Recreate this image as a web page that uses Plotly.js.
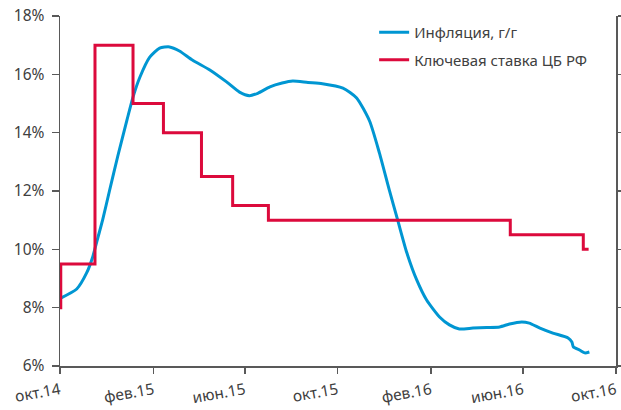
<!DOCTYPE html>
<html>
<head>
<meta charset="utf-8">
<script src="https://cdn.plot.ly/plotly-3.0.1.min.js"></script>
<style>html,body{margin:0;padding:0;background:#fff;}#chart{width:621px;height:410px;}</style>
</head>
<body>
<div id="chart"></div>
<script>
// Inflation, y/y (%)
const inflDates = [
  "2014-10-02","2014-10-23","2014-11-05","2014-11-13","2014-11-20","2014-11-26",
  "2014-12-05","2014-12-16","2014-12-28","2015-01-05","2015-01-14","2015-01-27",
  "2015-02-09","2015-02-22","2015-03-07","2015-03-24","2015-04-16","2015-05-08",
  "2015-05-25","2015-06-07","2015-06-18","2015-07-04","2015-07-20","2015-08-03",
  "2015-08-23","2015-09-11","2015-10-08","2015-10-26","2015-11-12","2015-11-25",
  "2015-12-08","2015-12-19","2015-12-31","2016-01-13","2016-01-26","2016-02-12",
  "2016-02-25","2016-03-09","2016-03-27","2016-04-14","2016-05-01","2016-05-14",
  "2016-05-30","2016-06-09","2016-06-23","2016-07-10","2016-07-30","2016-08-04",
  "2016-08-06","2016-08-14","2016-08-21","2016-08-27"
];
const inflValues = [
  8.33, 8.64, 9.19, 9.74, 10.42, 11.0,
  12.0, 13.2, 14.43, 15.22, 15.9, 16.59,
  16.9, 16.94, 16.8, 16.49, 16.15, 15.74,
  15.39, 15.27, 15.35, 15.57, 15.7, 15.77,
  15.72, 15.68, 15.53, 15.19, 14.4, 13.3,
  12.03, 11.0, 9.88, 8.95, 8.26, 7.68,
  7.41, 7.27, 7.3, 7.32, 7.34, 7.44,
  7.51, 7.47, 7.3, 7.13, 6.96, 6.82,
  6.65, 6.55, 6.45, 6.48
];

// Key rate of the Bank of Russia (%)
const rateDates = [
  "2014-10-01","2014-10-02","2014-11-16","2015-01-05","2015-02-14","2015-04-05",
  "2015-05-16","2015-07-02","2016-05-15","2016-08-19","2016-08-26"
];
const rateValues = [8.0, 9.5, 17.0, 15.0, 14.0, 12.5, 11.5, 11.0, 10.5, 10.0, 10.0];

// Axis ticks
const tickDates = ["2014-10-01","2015-02-01","2015-06-01","2015-10-01","2016-02-01","2016-06-01","2016-10-01"];
const tickLabels = ["окт.14","фев.15","июн.15","окт.15","фев.16","июн.16","окт.16"];
const yTicks = [6, 8, 10, 12, 14, 16, 18];

const FONT = "Noto Sans, Open Sans, sans-serif";
const axisColor = "#595959";

const traces = [
  {
    x: inflDates, y: inflValues, type: "scatter", mode: "lines",
    name: "Инфляция, г/г", legendgroup: "a",
    line: {color: "#0096D2", width: 3, shape: "spline", smoothing: 0.6}
  },
  {
    x: rateDates, y: rateValues, type: "scatter", mode: "lines",
    name: "Ключевая ставка ЦБ РФ", legendgroup: "b",
    line: {color: "#DC0A3C", width: 3, shape: "hv"}
  },
  {
    x: [tickDates[0]], y: [yTicks[0]], yaxis: "y2", type: "scatter", mode: "markers",
    marker: {opacity: 0}, showlegend: false, hoverinfo: "skip"
  }
];

const layout = {
  width: 621, height: 410,
  margin: {l: 60, r: 5, t: 16, b: 44},
  paper_bgcolor: "#ffffff", plot_bgcolor: "#ffffff",
  font: {family: FONT, size: 15, color: "#404040"},
  showlegend: true,
  legend: {
    x: 0.565, y: 1.0, xanchor: "left", yanchor: "top",
    bgcolor: "rgba(0,0,0,0)", font: {family: FONT, size: 15, color: "#404040"},
    tracegroupgap: 5, itemwidth: 30
  },
  xaxis: {
    type: "date",
    range: ["2014-10-01", "2016-10-01"],
    tickmode: "array", tickvals: tickDates, ticktext: tickLabels,
    tickangle: -10,
    ticks: "outside", ticklen: 6, tickcolor: axisColor, tickwidth: 1.5,
    ticklabelstandoff: 2,
    showline: true, linecolor: axisColor, linewidth: 1.5,
    showgrid: false, zeroline: false,
    tickfont: {family: FONT, size: 15.5, color: "#404040"}
  },
  yaxis: {
    range: [6, 18],
    tickmode: "array", tickvals: yTicks, ticktext: yTicks.map(v => v + "%"),
    ticks: "outside", ticklen: 7, tickcolor: axisColor, tickwidth: 1.5,
    ticklabelstandoff: 4,
    showline: true, linecolor: axisColor, linewidth: 1.5,
    showgrid: false, zeroline: false,
    tickfont: {family: FONT, size: 15.5, color: "#404040"}
  },
  yaxis2: {
    overlaying: "y", side: "right", range: [6, 18],
    tickmode: "array", tickvals: yTicks,
    ticks: "outside", ticklen: 6, tickcolor: axisColor, tickwidth: 1.5,
    showline: true, linecolor: axisColor, linewidth: 1.5,
    showticklabels: false, showgrid: false, zeroline: false
  }
};

Plotly.newPlot("chart", traces, layout, {staticPlot: true, displayModeBar: false});
</script>
</body>
</html>
